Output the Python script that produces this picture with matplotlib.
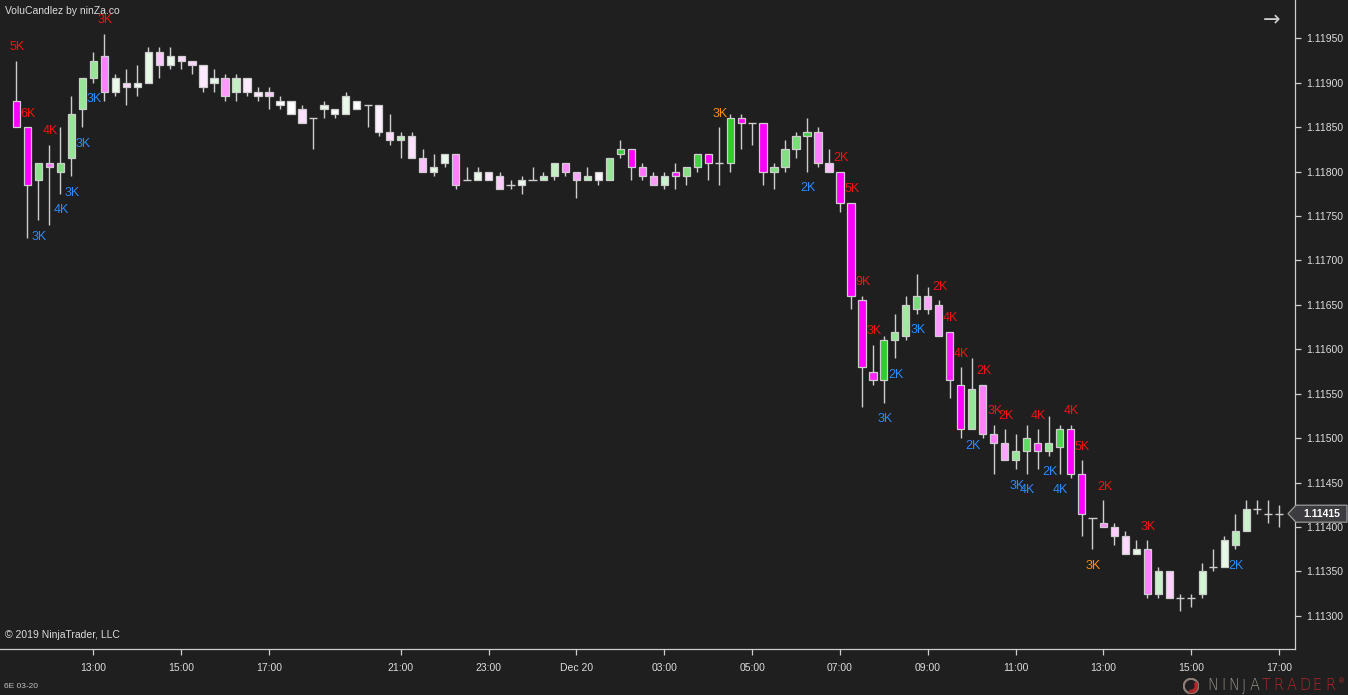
import matplotlib
matplotlib.use("Agg")
import matplotlib.pyplot as plt
import numpy as np
from matplotlib.patches import Polygon, Circle, Wedge

# ---------------- data (15-minute bars, 6E 03-20) ----------------
opens = [1.11880, 1.11850, 1.11790, 1.11810, 1.11800, 1.11815, 1.11870, 1.11905, 1.11930, 1.11890,
         1.11900, 1.11895, 1.11900, 1.11935, 1.11920, 1.11930, 1.11925, 1.11920, 1.11900, 1.11905,
         1.11890, 1.11905, 1.11890, 1.11890, 1.11880, 1.11880, 1.11870, 1.11860, 1.11870, 1.11870,
         1.11865, 1.11880, 1.11875, 1.11875, 1.11845, 1.11835, 1.11840, 1.11815, 1.11800, 1.11810,
         1.11820, 1.11790, 1.11790, 1.11800, 1.11795, 1.11785, 1.11785, 1.11790, 1.11790, 1.11795,
         1.11810, 1.11800, 1.11790, 1.11800, 1.11790, 1.11820, 1.11825, 1.11805, 1.11795, 1.11785,
         1.11800, 1.11795, 1.11805, 1.11820, 1.11810, 1.11810, 1.11860, 1.11855, 1.11855, 1.11800,
         1.11805, 1.11825, 1.11840, 1.11845, 1.11810, 1.11800, 1.11765, 1.11655, 1.11575, 1.11565,
         1.11610, 1.11615, 1.11645, 1.11660, 1.11650, 1.11620, 1.11560, 1.11510, 1.11560, 1.11505,
         1.11495, 1.11475, 1.11485, 1.11495, 1.11485, 1.11490, 1.11510, 1.11460, 1.11410, 1.11405,
         1.11400, 1.11390, 1.11370, 1.11375, 1.11325, 1.11350, 1.11320, 1.11320, 1.11325, 1.11355,
         1.11355, 1.11380, 1.11395, 1.11420, 1.11415, 1.11415]
highs = [1.11925, 1.11850, 1.11810, 1.11830, 1.11850, 1.11885, 1.11905, 1.11935, 1.11955, 1.11910,
         1.11915, 1.11920, 1.11940, 1.11940, 1.11940, 1.11930, 1.11925, 1.11920, 1.11915, 1.11910,
         1.11910, 1.11905, 1.11895, 1.11895, 1.11885, 1.11880, 1.11875, 1.11860, 1.11880, 1.11870,
         1.11890, 1.11880, 1.11875, 1.11875, 1.11865, 1.11845, 1.11845, 1.11825, 1.11820, 1.11820,
         1.11820, 1.11805, 1.11805, 1.11800, 1.11800, 1.11790, 1.11795, 1.11805, 1.11800, 1.11810,
         1.11810, 1.11800, 1.11805, 1.11800, 1.11815, 1.11835, 1.11825, 1.11810, 1.11800, 1.11800,
         1.11810, 1.11805, 1.11820, 1.11820, 1.11850, 1.11865, 1.11865, 1.11855, 1.11855, 1.11810,
         1.11835, 1.11845, 1.11860, 1.11850, 1.11825, 1.11800, 1.11765, 1.11660, 1.11605, 1.11615,
         1.11640, 1.11660, 1.11685, 1.11670, 1.11655, 1.11620, 1.11580, 1.11590, 1.11560, 1.11515,
         1.11510, 1.11505, 1.11515, 1.11510, 1.11525, 1.11515, 1.11515, 1.11475, 1.11410, 1.11430,
         1.11405, 1.11395, 1.11385, 1.11385, 1.11355, 1.11350, 1.11325, 1.11325, 1.11360, 1.11375,
         1.11390, 1.11415, 1.11430, 1.11430, 1.11430, 1.11425]
lows = [1.11850, 1.11725, 1.11745, 1.11740, 1.11775, 1.11795, 1.11850, 1.11900, 1.11880, 1.11885,
        1.11875, 1.11885, 1.11900, 1.11905, 1.11915, 1.11915, 1.11910, 1.11890, 1.11890, 1.11880,
        1.11880, 1.11885, 1.11880, 1.11870, 1.11870, 1.11865, 1.11855, 1.11825, 1.11860, 1.11860,
        1.11865, 1.11870, 1.11850, 1.11840, 1.11830, 1.11815, 1.11815, 1.11800, 1.11795, 1.11805,
        1.11780, 1.11790, 1.11790, 1.11790, 1.11780, 1.11780, 1.11775, 1.11790, 1.11790, 1.11790,
        1.11795, 1.11770, 1.11790, 1.11785, 1.11790, 1.11815, 1.11790, 1.11790, 1.11785, 1.11780,
        1.11780, 1.11785, 1.11800, 1.11790, 1.11785, 1.11800, 1.11825, 1.11830, 1.11785, 1.11780,
        1.11800, 1.11815, 1.11800, 1.11805, 1.11800, 1.11755, 1.11645, 1.11535, 1.11560, 1.11540,
        1.11590, 1.11610, 1.11640, 1.11640, 1.11615, 1.11545, 1.11500, 1.11510, 1.11500, 1.11460,
        1.11475, 1.11465, 1.11460, 1.11465, 1.11480, 1.11460, 1.11455, 1.11390, 1.11375, 1.11400,
        1.11380, 1.11370, 1.11370, 1.11320, 1.11320, 1.11320, 1.11305, 1.11310, 1.11320, 1.11350,
        1.11355, 1.11375, 1.11395, 1.11415, 1.11405, 1.11400]
closes = [1.11850, 1.11785, 1.11810, 1.11805, 1.11810, 1.11865, 1.11905, 1.11925, 1.11890, 1.11905,
          1.11895, 1.11900, 1.11935, 1.11920, 1.11930, 1.11925, 1.11920, 1.11895, 1.11905, 1.11885,
          1.11905, 1.11890, 1.11885, 1.11885, 1.11875, 1.11865, 1.11855, 1.11860, 1.11875, 1.11865,
          1.11885, 1.11870, 1.11875, 1.11845, 1.11835, 1.11840, 1.11815, 1.11800, 1.11805, 1.11820,
          1.11785, 1.11790, 1.11800, 1.11790, 1.11780, 1.11785, 1.11790, 1.11790, 1.11795, 1.11810,
          1.11800, 1.11790, 1.11795, 1.11790, 1.11815, 1.11825, 1.11805, 1.11795, 1.11785, 1.11795,
          1.11795, 1.11805, 1.11820, 1.11810, 1.11810, 1.11860, 1.11855, 1.11855, 1.11800, 1.11805,
          1.11825, 1.11840, 1.11845, 1.11810, 1.11800, 1.11765, 1.11660, 1.11580, 1.11565, 1.11610,
          1.11620, 1.11650, 1.11660, 1.11645, 1.11615, 1.11565, 1.11510, 1.11555, 1.11505, 1.11495,
          1.11475, 1.11485, 1.11500, 1.11485, 1.11495, 1.11510, 1.11460, 1.11415, 1.11410, 1.11400,
          1.11390, 1.11370, 1.11375, 1.11325, 1.11350, 1.11320, 1.11320, 1.11320, 1.11350, 1.11355,
          1.11385, 1.11395, 1.11420, 1.11420, 1.11415, 1.11415]
# relative volume intensity of each bar (drives the candle colour shade)
vol_intensity = [1.0, 1.0, 0.55, 0.5, 0.6, 0.5, 0.5, 0.5, 0.5, 0.1,
                 0.15, 0.06, 0.12, 0.22, 0.1, 0.15, 0.15, 0.08, 0.12, 0.4,
                 0.28, 0.08, 0.08, 0.2, 0.0, 0.0, 0.12, 0.0, 0.1, 0.0,
                 0.1, 0.0, 0.0, 0.06, 0.15, 0.3, 0.12, 0.25, 0.1, 0.1,
                 0.5, 0.0, 0.1, 0.1, 0.2, 0.0, 0.1, 0.0, 0.3, 0.28,
                 0.45, 0.35, 0.35, 0.03, 0.5, 0.95, 1.0, 0.55, 0.4, 0.25,
                 0.9, 0.6, 0.9, 1.0, 0.0, 1.0, 1.0, 0.0, 1.0, 0.6,
                 0.6, 0.65, 0.9, 0.5, 0.25, 1.0, 1.0, 1.0, 0.85, 1.0,
                 0.5, 0.45, 0.65, 0.35, 0.4, 0.9, 1.0, 0.5, 0.5, 0.5,
                 0.35, 0.5, 0.75, 0.75, 0.5, 0.85, 1.0, 1.0, 0.0, 0.45,
                 0.2, 0.15, 0.1, 0.5, 0.25, 0.18, 0.0, 0.0, 0.2, 0.0,
                 0.12, 0.35, 0.25, 0.0, 0.0, 0.0]

# volume labels
label_bars = [0, 1, 3, 8, 75, 76, 77, 78, 84, 85, 86, 88, 89, 90, 93, 96, 97, 99, 103,
              2, 4, 5, 6, 7, 72, 79, 80, 82, 87, 91, 92, 94, 95, 111,
              64, 98]
label_texts = ["5K", "6K", "4K", "3K", "2K", "5K", "9K", "3K", "2K", "4K", "4K", "2K", "3K", "2K", "4K", "4K", "5K", "2K", "3K",
               "3K", "4K", "3K", "3K", "3K", "2K", "3K", "2K", "3K", "2K", "3K", "4K", "2K", "4K", "2K",
               "3K", "3K"]
label_kinds = ["sell"] * 19 + ["buy"] * 15 + ["neutral", "neutral"]
label_sides = ["above"] * 19 + ["below"] * 15 + ["above", "below"]

tick_bars = [7, 15, 23, 35, 43, 51, 59, 67, 75, 83, 91, 99, 107, 115]
tick_labels = ["13:00", "15:00", "17:00", "21:00", "23:00", "Dec 20", "03:00", "05:00",
               "07:00", "09:00", "11:00", "13:00", "15:00", "17:00"]
price_ticks = [1.11300, 1.11350, 1.11400, 1.11450, 1.11500, 1.11550, 1.11600,
               1.11650, 1.11700, 1.11750, 1.11800, 1.11850, 1.11900, 1.11950]
last_price = 1.11415

# ---------------- style ----------------
BG = "#1f1f1f"
GREY = "#cdcdcd"
TXT = "#dcdcdc"
FONT = "Liberation Sans"
W, H = 1348, 695
YMIN, YMAX = 1.1126274, 1.119931


def px(x):
    return x / W


def py(y):
    return 1 - y / H


def shade(base, t):
    base = np.array(matplotlib.colors.to_rgb(base))
    return tuple(1 - t * (1 - base))


fig = plt.figure(figsize=(W / 100, H / 100), dpi=100, facecolor=BG)
ax = fig.add_axes([0, py(649), px(1295.3), 649 / H])
ax.set_facecolor(BG)

x = np.arange(len(opens))
o = np.array(opens); c = np.array(closes); hi = np.array(highs); lo = np.array(lows)
doji = np.isclose(o, c)
bull = (c > o) & ~doji
bear = (c < o) & ~doji

ax.vlines(x, lo, hi, color=GREY, lw=1.0, zorder=1)

cols = [shade("#2ecc2e", t) if b else shade("#ff00ff", t)
        for b, t in zip(bull, vol_intensity)]
nd = ~doji
ax.bar(x[nd], (c - o)[nd], bottom=o[nd], width=0.66,
       color=[cc for cc, k in zip(cols, nd) if k], edgecolor=GREY, linewidth=0.9, zorder=2)
ax.hlines(o[doji], x[doji] - 0.37, x[doji] + 0.37, color=GREY, lw=1.0, zorder=2)

kind_color = {"sell": "#f01414", "buy": "#2a8cff", "neutral": "#ff8c0a"}
for b, t, k, s in zip(label_bars, label_texts, label_kinds, label_sides):
    if s == "above":
        ax.annotate(t, (b, highs[b]), xytext=(1, 10.5), textcoords="offset pixels",
                    ha="center", va="baseline", color=kind_color[k], fontsize=9, family=FONT,
                    zorder=5)
    else:
        ax.annotate(t, (b, lows[b]), xytext=(1, -19.5), textcoords="offset pixels",
                    ha="center", va="baseline", color=kind_color[k], fontsize=9, family=FONT,
                    zorder=5)

ax.set_xlim(-1.497, 116.47)
ax.set_ylim(YMIN, YMAX)

for sp in ["left", "top"]:
    ax.spines[sp].set_visible(False)
for sp in ["right", "bottom"]:
    ax.spines[sp].set_color(GREY)
    ax.spines[sp].set_linewidth(0.9)

ax.yaxis.tick_right()
ax.set_yticks(price_ticks)
ax.set_yticklabels([f"{p:.5f}" for p in price_ticks])
ax.set_xticks(tick_bars)
ax.set_xticklabels(tick_labels)
ax.tick_params(axis="y", colors=GREY, labelcolor=TXT, length=4, width=0.9, pad=4, labelsize=7.5)
ax.tick_params(axis="x", colors=GREY, labelcolor=TXT, length=4, width=0.9, pad=6, labelsize=7.5)
for lab in ax.get_xticklabels() + ax.get_yticklabels():
    lab.set_family(FONT)

# last price tag
ytag = 649 * (YMAX - last_price) / (YMAX - YMIN)
hh = 8.5
tag = Polygon([(px(1288), py(ytag)), (px(1296), py(ytag - hh)), (px(1347), py(ytag - hh)),
               (px(1347), py(ytag + hh)), (px(1296), py(ytag + hh))],
              closed=True, transform=fig.transFigure, facecolor="#3c3c40",
              edgecolor="#9a9a9a", lw=0.9, zorder=10)
fig.add_artist(tag)
fig.text(px(1322), py(ytag), f"{last_price:.5f}", color="white", fontsize=7.5, family=FONT,
         fontweight="bold", ha="center", va="center", zorder=11)

# texts
fig.text(px(5), py(11), "VoluCandlez by ninZa.co", color=TXT, fontsize=7.5, family=FONT,
         ha="left", va="center")
fig.text(px(5), py(635), "© 2019 NinjaTrader, LLC", color=TXT, fontsize=7.5, family=FONT,
         ha="left", va="center")
fig.text(px(4), py(686), "6E 03-20", color="#c0c0c0", fontsize=6, family=FONT,
         ha="left", va="center")
fig.text(px(1272), py(20), "→", color=GREY, fontsize=15, family="DejaVu Sans",
         ha="center", va="center")

# NinjaTrader logo
logo_letters = list("NINJATRADER")
logo_x = [1212.3, 1223.3, 1233.3, 1244, 1254.3, 1265.7, 1278.3, 1291.7, 1305, 1316.7, 1330]
for i, (ch, lx) in enumerate(zip(logo_letters, logo_x)):
    fig.text(px(lx), py(686), ch, color="#9c958c" if i < 5 else "#b3262a", fontsize=10.5,
             family="DejaVu Sans", fontweight="light", ha="center", va="center")
fig.text(px(1342), py(681), "®", color="#b3262a", fontsize=5, family="DejaVu Sans",
         ha="center", va="center")
lax = fig.add_axes([px(1183), py(694), 16 / W, 16 / H])
lax.set_xlim(-1, 1); lax.set_ylim(-1, 1); lax.axis("off")
lax.add_patch(Circle((0, 0), 0.9, facecolor="none", edgecolor="#8c8078", lw=1.6))
lax.add_patch(Wedge((0, 0), 0.9, 250, 40, width=0.45, facecolor="#b3262a", edgecolor="none"))

fig.savefig("out.png", dpi=100, facecolor=BG)
